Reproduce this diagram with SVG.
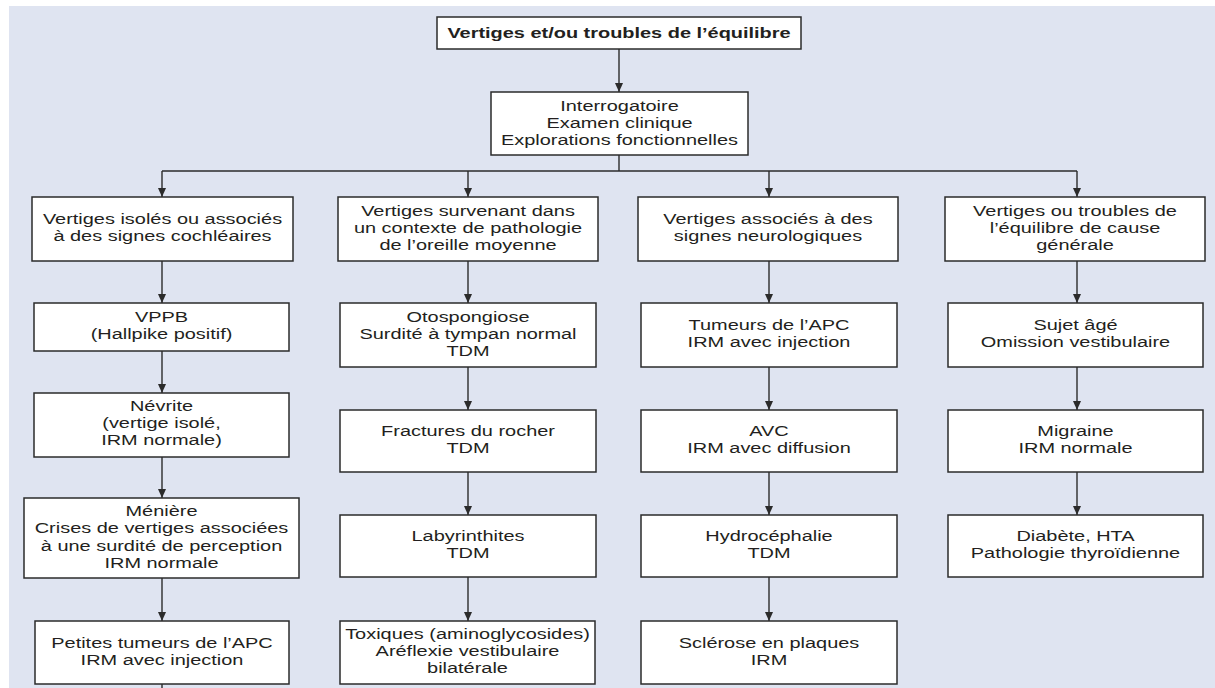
<svg xmlns="http://www.w3.org/2000/svg" width="1215" height="688" viewBox="0 0 1215 688">
<defs>
<style>
.box{fill:#ffffff;stroke:#2b2b2b;stroke-width:1.5}
.t{font-family:"Liberation Sans",Arial,sans-serif;font-size:15px;fill:#231f20;text-anchor:middle}
.b{font-weight:bold}
.c{fill:none;stroke:#2b2b2b;stroke-width:1.4}
</style>
<marker id="ah" viewBox="0 0 9 8" refX="9" refY="4" markerWidth="9" markerHeight="8" markerUnits="userSpaceOnUse" orient="auto">
<path d="M0,0 L9,4 L0,8 z" fill="#2b2b2b"/>
</marker>
</defs>
<rect x="0" y="0" width="1215" height="688" fill="#ffffff"/>
<rect x="9" y="6" width="1206" height="682" fill="#dfe4f1"/>

<g id="connectors">
<line class="c" x1="619" y1="49" x2="619" y2="92" marker-end="url(#ah)"/>
<polyline class="c" points="619,155 619,171"/>
<line class="c" x1="162" y1="171" x2="1077" y2="171"/>
<line class="c" x1="162" y1="171" x2="162" y2="197" marker-end="url(#ah)"/>
<line class="c" x1="468" y1="171" x2="468" y2="197" marker-end="url(#ah)"/>
<line class="c" x1="769" y1="171" x2="769" y2="197" marker-end="url(#ah)"/>
<line class="c" x1="1077" y1="171" x2="1077" y2="197" marker-end="url(#ah)"/>
<line class="c" x1="162" y1="261" x2="162" y2="303" marker-end="url(#ah)"/>
<line class="c" x1="162" y1="351" x2="162" y2="393" marker-end="url(#ah)"/>
<line class="c" x1="162" y1="457" x2="162" y2="498" marker-end="url(#ah)"/>
<line class="c" x1="162" y1="578" x2="162" y2="621" marker-end="url(#ah)"/>
<line class="c" x1="162" y1="684" x2="162" y2="688"/>
<line class="c" x1="468" y1="261" x2="468" y2="303" marker-end="url(#ah)"/>
<line class="c" x1="468" y1="367" x2="468" y2="410" marker-end="url(#ah)"/>
<line class="c" x1="468" y1="472" x2="468" y2="515" marker-end="url(#ah)"/>
<line class="c" x1="468" y1="577" x2="468" y2="621" marker-end="url(#ah)"/>
<line class="c" x1="769" y1="261" x2="769" y2="303" marker-end="url(#ah)"/>
<line class="c" x1="769" y1="367" x2="769" y2="410" marker-end="url(#ah)"/>
<line class="c" x1="769" y1="472" x2="769" y2="515" marker-end="url(#ah)"/>
<line class="c" x1="769" y1="577" x2="769" y2="621" marker-end="url(#ah)"/>
<line class="c" x1="1077" y1="261" x2="1077" y2="303" marker-end="url(#ah)"/>
<line class="c" x1="1077" y1="367" x2="1077" y2="410" marker-end="url(#ah)"/>
<line class="c" x1="1077" y1="472" x2="1077" y2="515" marker-end="url(#ah)"/>
</g>

<g id="n-top">
<rect class="box" x="437" y="17" width="364" height="32"/>
<text class="t b" transform="translate(619 0) scale(1.33 1)"><tspan x="0" y="38.5">Vertiges et/ou troubles de l’équilibre</tspan></text>
</g>
<g id="n-exam">
<rect class="box" x="491" y="92" width="257" height="63"/>
<text class="t" transform="translate(619.5 0) scale(1.33 1)"><tspan x="0" y="111.5">Interrogatoire</tspan><tspan x="0" y="128.5">Examen clinique</tspan><tspan x="0" y="145.5">Explorations fonctionnelles</tspan></text>
</g>

<g id="n-c1a">
<rect class="box" x="32" y="197" width="261" height="64"/>
<text class="t" transform="translate(162.5 0) scale(1.33 1)"><tspan x="0" y="224.5">Vertiges isolés ou associés</tspan><tspan x="0" y="241.5">à des signes cochléaires</tspan></text>
</g>
<g id="n-c2a">
<rect class="box" x="338" y="197" width="260" height="64"/>
<text class="t" transform="translate(468 0) scale(1.33 1)"><tspan x="0" y="216">Vertiges survenant dans</tspan><tspan x="0" y="233">un contexte de pathologie</tspan><tspan x="0" y="250">de l’oreille moyenne</tspan></text>
</g>
<g id="n-c3a">
<rect class="box" x="638" y="197" width="260" height="64"/>
<text class="t" transform="translate(768 0) scale(1.33 1)"><tspan x="0" y="224.5">Vertiges associés à des</tspan><tspan x="0" y="241.5">signes neurologiques</tspan></text>
</g>
<g id="n-c4a">
<rect class="box" x="945" y="197" width="260" height="64"/>
<text class="t" transform="translate(1075 0) scale(1.33 1)"><tspan x="0" y="216">Vertiges ou troubles de</tspan><tspan x="0" y="233">l’équilibre de cause</tspan><tspan x="0" y="250">générale</tspan></text>
</g>

<g id="n-vppb">
<rect class="box" x="34" y="303" width="255" height="48"/>
<text class="t" transform="translate(161.5 0) scale(1.33 1)"><tspan x="0" y="322.5">VPPB</tspan><tspan x="0" y="339.5">(Hallpike positif)</tspan></text>
</g>
<g id="n-otospongiose">
<rect class="box" x="340" y="303" width="256" height="64"/>
<text class="t" transform="translate(468 0) scale(1.33 1)"><tspan x="0" y="322">Otospongiose</tspan><tspan x="0" y="339">Surdité à tympan normal</tspan><tspan x="0" y="356">TDM</tspan></text>
</g>
<g id="n-tumeurs">
<rect class="box" x="641" y="303" width="256" height="64"/>
<text class="t" transform="translate(769 0) scale(1.33 1)"><tspan x="0" y="330.5">Tumeurs de l’APC</tspan><tspan x="0" y="347.5">IRM avec injection</tspan></text>
</g>
<g id="n-sujet">
<rect class="box" x="948" y="303" width="255" height="64"/>
<text class="t" transform="translate(1075.5 0) scale(1.33 1)"><tspan x="0" y="330.5">Sujet âgé</tspan><tspan x="0" y="347.5">Omission vestibulaire</tspan></text>
</g>

<g id="n-nevrite">
<rect class="box" x="34" y="393" width="255" height="64"/>
<text class="t" transform="translate(161.5 0) scale(1.33 1)"><tspan x="0" y="411.5">Névrite</tspan><tspan x="0" y="428.5">(vertige isolé,</tspan><tspan x="0" y="445.5">IRM normale)</tspan></text>
</g>
<g id="n-fractures">
<rect class="box" x="340" y="410" width="256" height="62"/>
<text class="t" transform="translate(468 0) scale(1.33 1)"><tspan x="0" y="436.5">Fractures du rocher</tspan><tspan x="0" y="453.5">TDM</tspan></text>
</g>
<g id="n-avc">
<rect class="box" x="641" y="410" width="256" height="62"/>
<text class="t" transform="translate(769 0) scale(1.33 1)"><tspan x="0" y="436.5">AVC</tspan><tspan x="0" y="453.5">IRM avec diffusion</tspan></text>
</g>
<g id="n-migraine">
<rect class="box" x="948" y="410" width="255" height="62"/>
<text class="t" transform="translate(1075.5 0) scale(1.33 1)"><tspan x="0" y="436.5">Migraine</tspan><tspan x="0" y="453.5">IRM normale</tspan></text>
</g>

<g id="n-meniere">
<rect class="box" x="24" y="498" width="275" height="80"/>
<text class="t" transform="translate(161.5 0) scale(1.33 1)"><tspan x="0" y="516">Ménière</tspan><tspan x="0" y="533.5">Crises de vertiges associées</tspan><tspan x="0" y="551">à une surdité de perception</tspan><tspan x="0" y="568.5">IRM normale</tspan></text>
</g>
<g id="n-labyrinthites">
<rect class="box" x="340" y="515" width="256" height="62"/>
<text class="t" transform="translate(468 0) scale(1.33 1)"><tspan x="0" y="541.5">Labyrinthites</tspan><tspan x="0" y="558.5">TDM</tspan></text>
</g>
<g id="n-hydrocephalie">
<rect class="box" x="641" y="515" width="256" height="62"/>
<text class="t" transform="translate(769 0) scale(1.33 1)"><tspan x="0" y="541.5">Hydrocéphalie</tspan><tspan x="0" y="558.5">TDM</tspan></text>
</g>
<g id="n-diabete">
<rect class="box" x="948" y="515" width="255" height="62"/>
<text class="t" transform="translate(1075.5 0) scale(1.33 1)"><tspan x="0" y="541.5">Diabète, HTA</tspan><tspan x="0" y="558.5">Pathologie thyroïdienne</tspan></text>
</g>

<g id="n-petites">
<rect class="box" x="35" y="621" width="254" height="63"/>
<text class="t" transform="translate(162 0) scale(1.33 1)"><tspan x="0" y="648">Petites tumeurs de l’APC</tspan><tspan x="0" y="665">IRM avec injection</tspan></text>
</g>
<g id="n-toxiques">
<rect class="box" x="340" y="621" width="255" height="63"/>
<text class="t" transform="translate(467.5 0) scale(1.33 1)"><tspan x="0" y="639.5">Toxiques (aminoglycosides)</tspan><tspan x="0" y="656.5">Aréflexie vestibulaire</tspan><tspan x="0" y="673.5">bilatérale</tspan></text>
</g>
<g id="n-sclerose">
<rect class="box" x="641" y="621" width="256" height="63"/>
<text class="t" transform="translate(769 0) scale(1.33 1)"><tspan x="0" y="648">Sclérose en plaques</tspan><tspan x="0" y="665">IRM</tspan></text>
</g>
</svg>
